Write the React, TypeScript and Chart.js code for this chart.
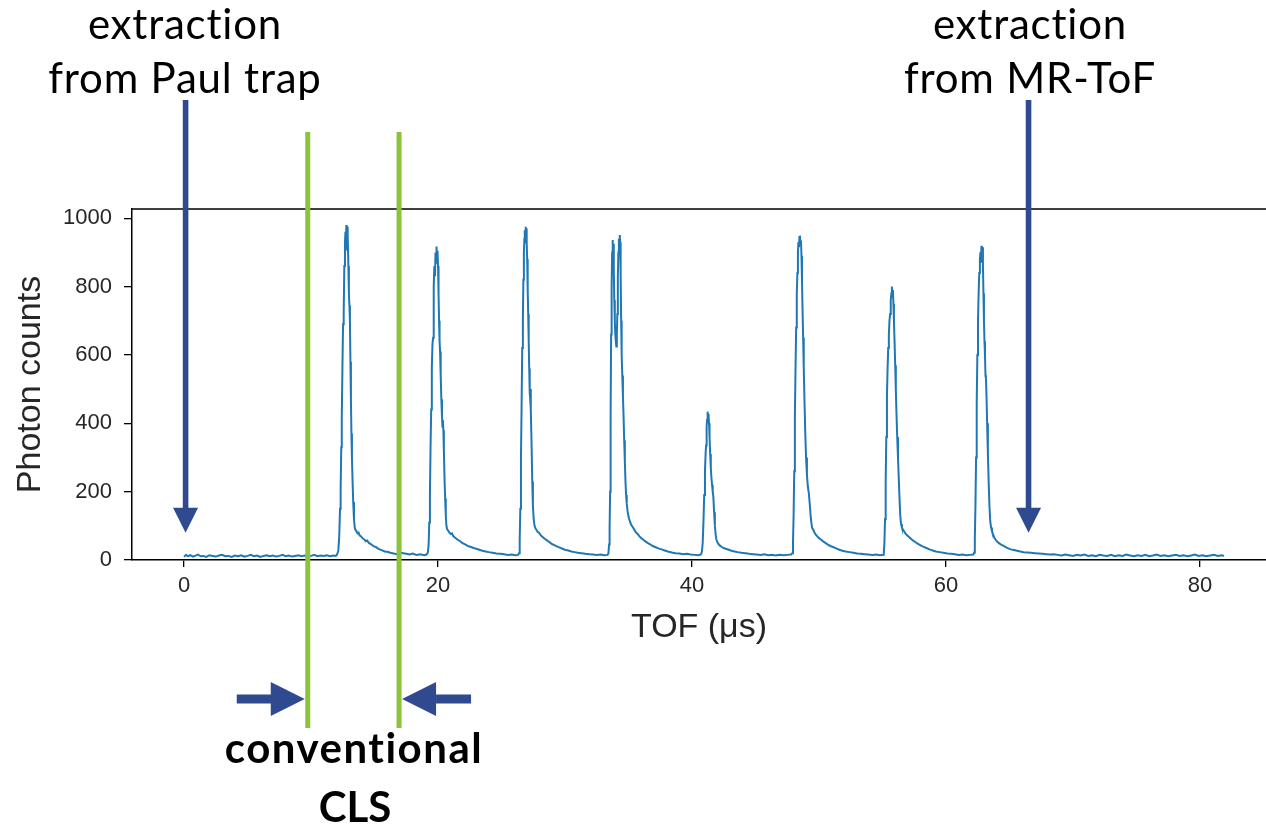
import React, { useEffect, useRef } from "react";
import { Chart, registerables } from "chart.js";

Chart.register(...registerables);

// ---------- data: TOF (µs) vs photon counts ----------
const baselineStart: [number, number][] = [
  [0.0, 9], [0.15, 15], [0.3, 11], [0.5, 14], [0.7, 10], [0.9, 13], [1.1, 16], [1.3, 11], [1.5, 12], [1.75, 9],
  [2.0, 14], [2.25, 12], [2.5, 10], [2.75, 13], [3.0, 15], [3.25, 11], [3.5, 12], [3.75, 9], [4.0, 13], [4.25, 11],
  [4.5, 14], [4.75, 10], [5.0, 12], [5.25, 15], [5.5, 11], [5.75, 13], [6.0, 9], [6.25, 12], [6.5, 14], [6.75, 11],
  [7.0, 13], [7.25, 10], [7.5, 12], [7.75, 15], [8.0, 11], [8.25, 13], [8.5, 10], [8.75, 12], [9.0, 14], [9.25, 11],
  [9.5, 13], [9.75, 10], [10.0, 12], [10.25, 15], [10.5, 11], [10.75, 13], [11.0, 12], [11.25, 14], [11.5, 11],
  [11.75, 13], [11.95, 12],
];

const peak1: [number, number][] = [
  [12.05, 16], [12.15, 28], [12.22, 70], [12.28, 150], [12.33, 210], [12.38, 330], [12.42, 420], [12.47, 560],
  [12.52, 690], [12.57, 720], [12.62, 860], [12.67, 930], [12.71, 960], [12.74, 905], [12.78, 980], [12.81, 940],
  [12.84, 975], [12.87, 910], [12.9, 950], [12.94, 860], [12.98, 780], [13.02, 745], [13.06, 700], [13.1, 580],
  [13.14, 470], [13.18, 370], [13.22, 300], [13.27, 230], [13.32, 170], [13.38, 120], [13.44, 95], [13.5, 88],
  [13.58, 84], [13.66, 78], [13.74, 80], [13.82, 72], [13.9, 70], [14.0, 66], [14.1, 62], [14.2, 60], [14.3, 55],
  [14.42, 57], [14.55, 50], [14.68, 47], [14.8, 44], [14.95, 40], [15.1, 38], [15.25, 34], [15.4, 31], [15.6, 28],
  [15.8, 25], [16.0, 24], [16.25, 21], [16.5, 19], [16.75, 17], [17.0, 22], [17.25, 20], [17.5, 18], [17.75, 16],
  [18.0, 19], [18.3, 15], [18.6, 17], [18.9, 14], [19.1, 16],
];

const peak2: [number, number][] = [
  [19.2, 22], [19.26, 45], [19.31, 110], [19.36, 190], [19.41, 330], [19.46, 440], [19.51, 560], [19.56, 630],
  [19.61, 650], [19.66, 800], [19.71, 860], [19.76, 830], [19.8, 900], [19.84, 870], [19.88, 917], [19.92, 880],
  [19.96, 905], [20.0, 860], [20.04, 780], [20.08, 700], [20.12, 640], [20.16, 610], [20.21, 540], [20.26, 470],
  [20.31, 420], [20.35, 390], [20.38, 410], [20.42, 380], [20.46, 320], [20.51, 240], [20.56, 180], [20.61, 130],
  [20.66, 100], [20.72, 90], [20.8, 86], [20.9, 80], [21.0, 76], [21.1, 78], [21.2, 70], [21.32, 66], [21.45, 62],
  [21.6, 58], [21.75, 55], [21.9, 50], [22.05, 47], [22.2, 44], [22.4, 40], [22.6, 38], [22.8, 35], [23.0, 33],
  [23.25, 30], [23.5, 27], [23.75, 25], [24.0, 23], [24.3, 21], [24.6, 19], [24.9, 18], [25.2, 17], [25.5, 15],
  [25.8, 16], [26.1, 14], [26.3, 15],
];

const peak3: [number, number][] = [
  [26.38, 20], [26.43, 60], [26.48, 150], [26.53, 300], [26.58, 450], [26.63, 620], [26.68, 700], [26.72, 820],
  [26.76, 900], [26.8, 940], [26.83, 965], [26.86, 930], [26.89, 975], [26.92, 950], [26.95, 970], [26.98, 930],
  [27.02, 880], [27.06, 790], [27.1, 720], [27.14, 640], [27.18, 560], [27.22, 490], [27.26, 470], [27.29, 500],
  [27.32, 440], [27.37, 330], [27.42, 230], [27.47, 160], [27.53, 120], [27.6, 100], [27.68, 92], [27.76, 88],
  [27.85, 82], [27.95, 80], [28.05, 74], [28.15, 70], [28.28, 66], [28.4, 62], [28.55, 58], [28.7, 54], [28.85, 50],
  [29.0, 46], [29.2, 43], [29.4, 39], [29.6, 36], [29.8, 33], [30.0, 30], [30.25, 28], [30.5, 25], [30.75, 23],
  [31.0, 21], [31.3, 20], [31.6, 18], [31.9, 17], [32.2, 16], [32.5, 15], [32.8, 16], [33.1, 14], [33.35, 15],
];

const peak4: [number, number][] = [
  [33.42, 20], [33.47, 45], [33.51, 90], [33.55, 200], [33.59, 420], [33.63, 660], [33.67, 800], [33.71, 900],
  [33.74, 936], [33.77, 910], [33.8, 925], [33.84, 850], [33.88, 760], [33.92, 700], [33.96, 660], [34.0, 640],
  [34.04, 625], [34.08, 660], [34.12, 720], [34.16, 830], [34.2, 900], [34.24, 940], [34.28, 920], [34.31, 951],
  [34.34, 930], [34.38, 840], [34.42, 700], [34.46, 600], [34.51, 540], [34.56, 480], [34.61, 420], [34.66, 350],
  [34.71, 290], [34.76, 230], [34.81, 190], [34.86, 165], [34.92, 145], [34.98, 130], [35.05, 120], [35.12, 112],
  [35.2, 104], [35.3, 98], [35.4, 92], [35.5, 86], [35.6, 80], [35.72, 76], [35.85, 70], [36.0, 64], [36.15, 60],
  [36.3, 55], [36.5, 50], [36.7, 46], [36.9, 41], [37.1, 38], [37.35, 34], [37.6, 31], [37.85, 28], [38.1, 25],
  [38.4, 22], [38.7, 20], [39.0, 19], [39.3, 17], [39.6, 18], [39.9, 16], [40.2, 15], [40.5, 14], [40.7, 16],
];

const peak5: [number, number][] = [
  [40.78, 24], [40.84, 50], [40.9, 110], [40.96, 190], [41.02, 260], [41.07, 310], [41.11, 335], [41.15, 390],
  [41.19, 410], [41.23, 434], [41.26, 415], [41.3, 428], [41.34, 400], [41.38, 360], [41.43, 310], [41.48, 270],
  [41.53, 240], [41.58, 220], [41.63, 200], [41.68, 185], [41.74, 140], [41.8, 100], [41.86, 75], [41.92, 60],
  [42.0, 52], [42.1, 46], [42.2, 42], [42.35, 38], [42.5, 35], [42.7, 32], [42.9, 30], [43.1, 27], [43.35, 25],
  [43.6, 23], [43.9, 21], [44.2, 20], [44.5, 18], [44.8, 17], [45.1, 16], [45.4, 15], [45.7, 17], [46.0, 14],
  [46.3, 15], [46.6, 13], [46.9, 15], [47.2, 14], [47.5, 15], [47.8, 16],
];

const peak6: [number, number][] = [
  [47.9, 20], [47.95, 50], [48.0, 130], [48.05, 260], [48.1, 420], [48.15, 556], [48.2, 680], [48.25, 780],
  [48.3, 840], [48.34, 900], [48.38, 930], [48.42, 915], [48.46, 945], [48.5, 949], [48.54, 925], [48.58, 935],
  [48.62, 890], [48.66, 820], [48.7, 740], [48.75, 650], [48.8, 560], [48.86, 460], [48.92, 370], [48.98, 300],
  [49.05, 250], [49.12, 215], [49.2, 195], [49.28, 160], [49.36, 120], [49.45, 95], [49.55, 88], [49.65, 80],
  [49.75, 74], [49.85, 70], [50.0, 64], [50.15, 60], [50.3, 55], [50.5, 50], [50.7, 45], [50.9, 41], [51.1, 38],
  [51.35, 34], [51.6, 30], [51.85, 27], [52.1, 25], [52.4, 23], [52.7, 21], [53.0, 19], [53.3, 18], [53.6, 17],
  [53.9, 16], [54.2, 15], [54.5, 16], [54.8, 14], [55.05, 15],
];

const peak7: [number, number][] = [
  [55.1, 20], [55.15, 50], [55.2, 120], [55.25, 230], [55.3, 360], [55.35, 480], [55.4, 560], [55.45, 620],
  [55.5, 660], [55.55, 700], [55.6, 720], [55.65, 760], [55.7, 780], [55.74, 800], [55.78, 770], [55.82, 790],
  [55.86, 750], [55.9, 700], [55.95, 640], [56.0, 570], [56.05, 500], [56.1, 430], [56.16, 360], [56.22, 300],
  [56.28, 240], [56.34, 180], [56.4, 130], [56.46, 105], [56.53, 95], [56.6, 90], [56.7, 84], [56.8, 78],
  [56.9, 74], [57.0, 70], [57.15, 65], [57.3, 60], [57.45, 56], [57.6, 52], [57.8, 47], [58.0, 43], [58.2, 39],
  [58.45, 35], [58.7, 31], [58.95, 28], [59.2, 25], [59.5, 23], [59.8, 21], [60.1, 19], [60.4, 18], [60.7, 17],
  [61.0, 15], [61.3, 16], [61.6, 14], [61.9, 15], [62.15, 16],
];

const peak8: [number, number][] = [
  [62.22, 22], [62.27, 60], [62.32, 160], [62.37, 300], [62.42, 460], [62.47, 600], [62.52, 700], [62.57, 780],
  [62.62, 840], [62.67, 880], [62.71, 900], [62.75, 870], [62.79, 919], [62.83, 905], [62.87, 915], [62.91, 860],
  [62.95, 780], [62.99, 700], [63.03, 640], [63.07, 600], [63.11, 540], [63.15, 530], [63.19, 480], [63.24, 400],
  [63.3, 310], [63.36, 230], [63.42, 160], [63.48, 115], [63.55, 95], [63.62, 85], [63.7, 76], [63.8, 66],
  [63.9, 60], [64.0, 55], [64.15, 50], [64.3, 46], [64.5, 42], [64.7, 38], [64.9, 34], [65.1, 31], [65.35, 29],
  [65.6, 27], [65.85, 25], [66.1, 23], [66.4, 22], [66.7, 21], [67.0, 20], [67.3, 19], [67.6, 18], [67.9, 17],
  [68.2, 16], [68.5, 17],
];

const baselineEnd: [number, number][] = [
  [68.8, 15], [69.1, 13], [69.4, 16], [69.7, 14], [70.0, 12], [70.3, 15], [70.6, 13], [70.9, 16], [71.2, 12],
  [71.5, 14], [71.8, 11], [72.1, 15], [72.4, 13], [72.7, 12], [73.0, 15], [73.3, 11], [73.6, 14], [73.9, 12],
  [74.2, 16], [74.5, 13], [74.8, 11], [75.1, 14], [75.4, 12], [75.7, 15], [76.0, 11], [76.3, 13], [76.6, 16],
  [76.9, 12], [77.2, 14], [77.5, 11], [77.8, 13], [78.1, 15], [78.4, 12], [78.7, 14], [79.0, 11], [79.3, 13],
  [79.6, 16], [79.9, 12], [80.2, 14], [80.5, 11], [80.8, 13], [81.1, 15], [81.4, 12], [81.7, 14], [81.9, 12],
];

const spectrum = [
  ...baselineStart, ...peak1, ...peak2, ...peak3, ...peak4,
  ...peak5, ...peak6, ...peak7, ...peak8, ...baselineEnd,
];

// axis settings and tick labels
const xRange = { min: -4.1, max: 85.2 };
const yRange = { min: 0, max: 1027 };
const xTicks = [0, 20, 40, 60, 80];
const yTicks = [0, 200, 400, 600, 800, 1000];

// annotation anchors (TOF in µs)
const clsWindowTof = [9.74, 16.93];
const extractionTof = [0.12, 66.5];
const arrowTipCounts = 80;

// ---------- styling ----------
const W = 1266;
const H = 826;
const LINE_BLUE = "#1f77b4";
const NAVY = "#2f4a8e";
const GREEN = "#8dc33a";
const TICK_FONT = "'Liberation Sans', Arial, sans-serif";
const NOTE_FONT = "Lato, 'Open Sans', sans-serif";

const annotationPlugin = {
  id: "tofAnnotations",
  afterDraw(chart: any) {
    const { ctx, chartArea, scales } = chart;
    const xs = scales.x;
    const ys = scales.y;
    ctx.save();

    // top spine
    ctx.strokeStyle = "#000";
    ctx.lineWidth = 1.5;
    ctx.beginPath();
    ctx.moveTo(chartArea.left, chartArea.top);
    ctx.lineTo(chartArea.right, chartArea.top);
    ctx.stroke();

    // vertical navy extraction arrows
    ctx.fillStyle = NAVY;
    const tipY = ys.getPixelForValue(arrowTipCounts);
    for (const t of extractionTof) {
      const px = xs.getPixelForValue(t);
      const headLen = 25;
      const headHalf = 12.5;
      ctx.fillRect(px - 2.8, 100, 5.6, tipY - headLen - 100 + 1);
      ctx.beginPath();
      ctx.moveTo(px - headHalf, tipY - headLen);
      ctx.lineTo(px + headHalf, tipY - headLen);
      ctx.lineTo(px, tipY);
      ctx.closePath();
      ctx.fill();
    }

    // green CLS window lines
    ctx.strokeStyle = GREEN;
    ctx.lineWidth = 5;
    const gx = clsWindowTof.map((t) => xs.getPixelForValue(t));
    for (const px of gx) {
      ctx.beginPath();
      ctx.moveTo(px, 132);
      ctx.lineTo(px, 728);
      ctx.stroke();
    }

    // horizontal navy arrows pointing at the window
    const ay = 699;
    const drawHArrow = (tip: number, dir: number) => {
      const headLen = 34;
      const headHalf = 17;
      const total = 68;
      const base = tip - dir * headLen;
      const tail = tip - dir * total;
      ctx.fillStyle = NAVY;
      ctx.fillRect(Math.min(base, tail), ay - 4.5, Math.abs(base - tail) + 1, 9);
      ctx.beginPath();
      ctx.moveTo(base, ay - headHalf);
      ctx.lineTo(tip, ay);
      ctx.lineTo(base, ay + headHalf);
      ctx.closePath();
      ctx.fill();
    };
    drawHArrow(gx[0] - 3, 1);
    drawHArrow(gx[1] + 3, -1);

    ctx.restore();
  },
};

function ChartCanvas() {
  const ref = useRef<HTMLCanvasElement | null>(null);
  useEffect(() => {
    if (!ref.current) return;
    const chart = new Chart(ref.current, {
      type: "line",
      data: {
        datasets: [
          {
            data: spectrum.map(([x, y]) => ({ x, y })),
            borderColor: LINE_BLUE,
            borderWidth: 2,
            pointRadius: 0,
            tension: 0,
            fill: false,
          },
        ],
      },
      options: {
        responsive: false,
        animation: false,
        events: [],
        layout: { padding: { top: 209, right: 0, bottom: 0, left: 0 } },
        plugins: { legend: { display: false }, tooltip: { enabled: false } },
        scales: {
          x: {
            type: "linear",
            min: xRange.min,
            max: xRange.max,
            afterBuildTicks: (s: any) => {
              s.ticks = xTicks.map((value) => ({ value }));
            },
            afterFit: (s: any) => {
              s.height = H - 560;
            },
            grid: { drawOnChartArea: false, drawTicks: true, tickLength: 7, color: "#000", lineWidth: 1.3 },
            border: { display: true, color: "#000", width: 1.5 },
            ticks: {
              color: "#262626",
              padding: 6,
              maxRotation: 0,
              autoSkip: false,
              font: { family: TICK_FONT, size: 22 },
              callback: (v: any) => String(v),
            },
            title: {
              display: true,
              text: "TOF (μs)",
              color: "#262626",
              font: { family: TICK_FONT, size: 34 },
              padding: { top: 0, bottom: 178 },
            },
          },
          y: {
            type: "linear",
            min: yRange.min,
            max: yRange.max,
            afterBuildTicks: (s: any) => {
              s.ticks = yTicks.map((value) => ({ value }));
            },
            afterFit: (s: any) => {
              s.width = 132;
            },
            grid: { drawOnChartArea: false, drawTicks: true, tickLength: 8, color: "#000", lineWidth: 1.3 },
            border: { display: true, color: "#000", width: 1.5 },
            ticks: {
              color: "#262626",
              padding: 12,
              autoSkip: false,
              font: { family: TICK_FONT, size: 22 },
              callback: (v: any) => String(v),
            },
            title: {
              display: true,
              text: "Photon counts",
              color: "#262626",
              font: { family: TICK_FONT, size: 34 },
              padding: { top: 10, bottom: 0 },
            },
          },
        },
      },
      plugins: [annotationPlugin],
    });
    return () => chart.destroy();
  }, []);
  return <canvas ref={ref} width={W} height={H} style={{ display: "block", width: W, height: H }} />;
}

const noteLine = (cx: number, top: number, bold = false, spacing = 0.8): React.CSSProperties => ({
  position: "absolute",
  left: cx - 250,
  top,
  width: 500,
  textAlign: "center",
  fontFamily: NOTE_FONT,
  fontSize: 42,
  lineHeight: 1,
  letterSpacing: spacing,
  fontWeight: bold ? 700 : 400,
  color: "#000",
  whiteSpace: "nowrap",
});

export default function App() {
  return (
    <div style={{ position: "fixed", left: 0, top: 0, width: W, height: H, background: "#fff", overflow: "hidden" }}>
      <ChartCanvas />
      <div style={noteLine(185, 2)}>extraction</div>
      <div style={noteLine(185, 56)}>from Paul trap</div>
      <div style={noteLine(1030, 2)}>extraction</div>
      <div style={noteLine(1030, 56)}>from MR-ToF</div>
      <div style={noteLine(354, 726, true, 1.5)}>conventional</div>
      <div style={noteLine(355, 785, true, 0)}>CLS</div>
    </div>
  );
}
